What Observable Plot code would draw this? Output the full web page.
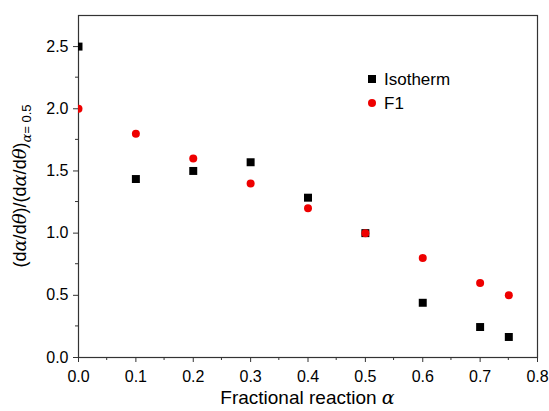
<!DOCTYPE html>
<html><head><meta charset="utf-8">
<script src="https://cdn.jsdelivr.net/npm/d3@7"></script>
<script src="https://cdn.jsdelivr.net/npm/@observablehq/plot@0.6"></script>
<style>body{margin:0;background:#fff;} svg{font-family:"Liberation Sans",Arial,sans-serif;}</style>
</head><body><div id="chart"></div>
<script>
const alphaIso = [0, 0.1, 0.2, 0.3, 0.4, 0.5, 0.6, 0.7, 0.75];
const isotherm = [2.5, 1.435, 1.5, 1.57, 1.285, 1.0, 0.44, 0.245, 0.165];
const alphaF1 = [0, 0.1, 0.2, 0.3, 0.4, 0.5, 0.6, 0.7, 0.75];
const f1 = [2.0, 1.8, 1.6, 1.4, 1.2, 1.0, 0.8, 0.6, 0.5];
const xTicks = [0, 0.1, 0.2, 0.3, 0.4, 0.5, 0.6, 0.7, 0.8];
const xMinor = [0.05, 0.15, 0.25, 0.35, 0.45, 0.55, 0.65, 0.75];
const yTicks = [0, 0.5, 1.0, 1.5, 2.0, 2.5];
const yMinor = [0.25, 0.75, 1.25, 1.75, 2.25];
const legendItems = ["Isotherm", "F1"];

const isoData = alphaIso.map((a, i) => ({a, v: isotherm[i]}));
const f1Data = alphaF1.map((a, i) => ({a, v: f1[i]}));

const chart = Plot.plot({
  width: 549, height: 411,
  marginLeft: 78, marginRight: 12, marginTop: 15, marginBottom: 54,
  x: {domain: [0, 0.8]},
  y: {domain: [0, 2.75]},
  style: {fontFamily: "Liberation Sans, Arial, sans-serif", fontSize: "16px", color: "#000"},
  marks: [
    Plot.frame({stroke: "#333", strokeWidth: 1.2}),
    Plot.axisX(xTicks, {tickSize: 5, tickPadding: 8, tickFormat: d3.format(".1f"), fontSize: 16, label: null, stroke: "#333"}),
    Plot.axisY(yTicks, {tickSize: 5, tickPadding: 5, tickFormat: d3.format(".1f"), fontSize: 16, label: null, stroke: "#333"}),
    Plot.dot(isoData, {x: "a", y: "v", symbol: "square", r: 4.5, fill: "#000", stroke: null, clip: true}),
    Plot.dot(f1Data, {x: "a", y: "v", symbol: "circle", r: 4, fill: "#ee0000", stroke: null, clip: true}),
  ]
});
const svg = d3.select(chart);
const xs = chart.scale("x"), ys = chart.scale("y");
// minor ticks
const g = svg.append("g").attr("stroke", "#333").attr("stroke-width", 1);
xMinor.forEach(t => g.append("line").attr("x1", xs.apply(t)).attr("x2", xs.apply(t)).attr("y1", ys.apply(0)).attr("y2", ys.apply(0) + 3));
yMinor.forEach(t => g.append("line").attr("y1", ys.apply(t)).attr("y2", ys.apply(t)).attr("x1", xs.apply(0)).attr("x2", xs.apply(0) - 3));
// legend
const lx = 372, ly = [79, 103];
svg.append("rect").attr("x", lx - 4).attr("y", ly[0] - 4).attr("width", 8).attr("height", 8).attr("fill", "#000");
svg.append("circle").attr("cx", lx).attr("cy", ly[1]).attr("r", 4).attr("fill", "#ee0000");
legendItems.forEach((t, i) => svg.append("text").attr("x", lx + 12).attr("y", ly[i] + 6).attr("text-anchor", "start").attr("font-size", 17).text(t));
// x label
const xl = svg.append("text").attr("x", (xs.range[0] + xs.range[1]) / 2).attr("y", 404).attr("text-anchor", "middle").attr("font-size", 19);
xl.append("tspan").text("Fractional reaction ");
xl.append("tspan").attr("font-style", "italic").attr("font-family", "DejaVu Serif").text("α");
// y label
const yl = svg.append("text").attr("transform", `translate(26,${(ys.range[0] + ys.range[1]) / 2}) rotate(-90)`).attr("text-anchor", "middle").attr("font-size", 18);
yl.append("tspan").text("(d");
yl.append("tspan").attr("font-style", "italic").attr("font-family", "DejaVu Serif").text("α");
yl.append("tspan").text("/d");
yl.append("tspan").attr("font-style", "italic").attr("font-family", "DejaVu Serif").text("θ");
yl.append("tspan").text(")/(d");
yl.append("tspan").attr("font-style", "italic").attr("font-family", "DejaVu Serif").text("α");
yl.append("tspan").text("/d");
yl.append("tspan").attr("font-style", "italic").attr("font-family", "DejaVu Serif").text("θ");
yl.append("tspan").text(")");
yl.append("tspan").attr("font-size", 13).attr("dy", 5).attr("font-style", "italic").attr("font-family", "DejaVu Serif").text("α");
yl.append("tspan").attr("font-size", 13).text("= 0.5");
document.getElementById("chart").appendChild(chart);
</script></body></html>
